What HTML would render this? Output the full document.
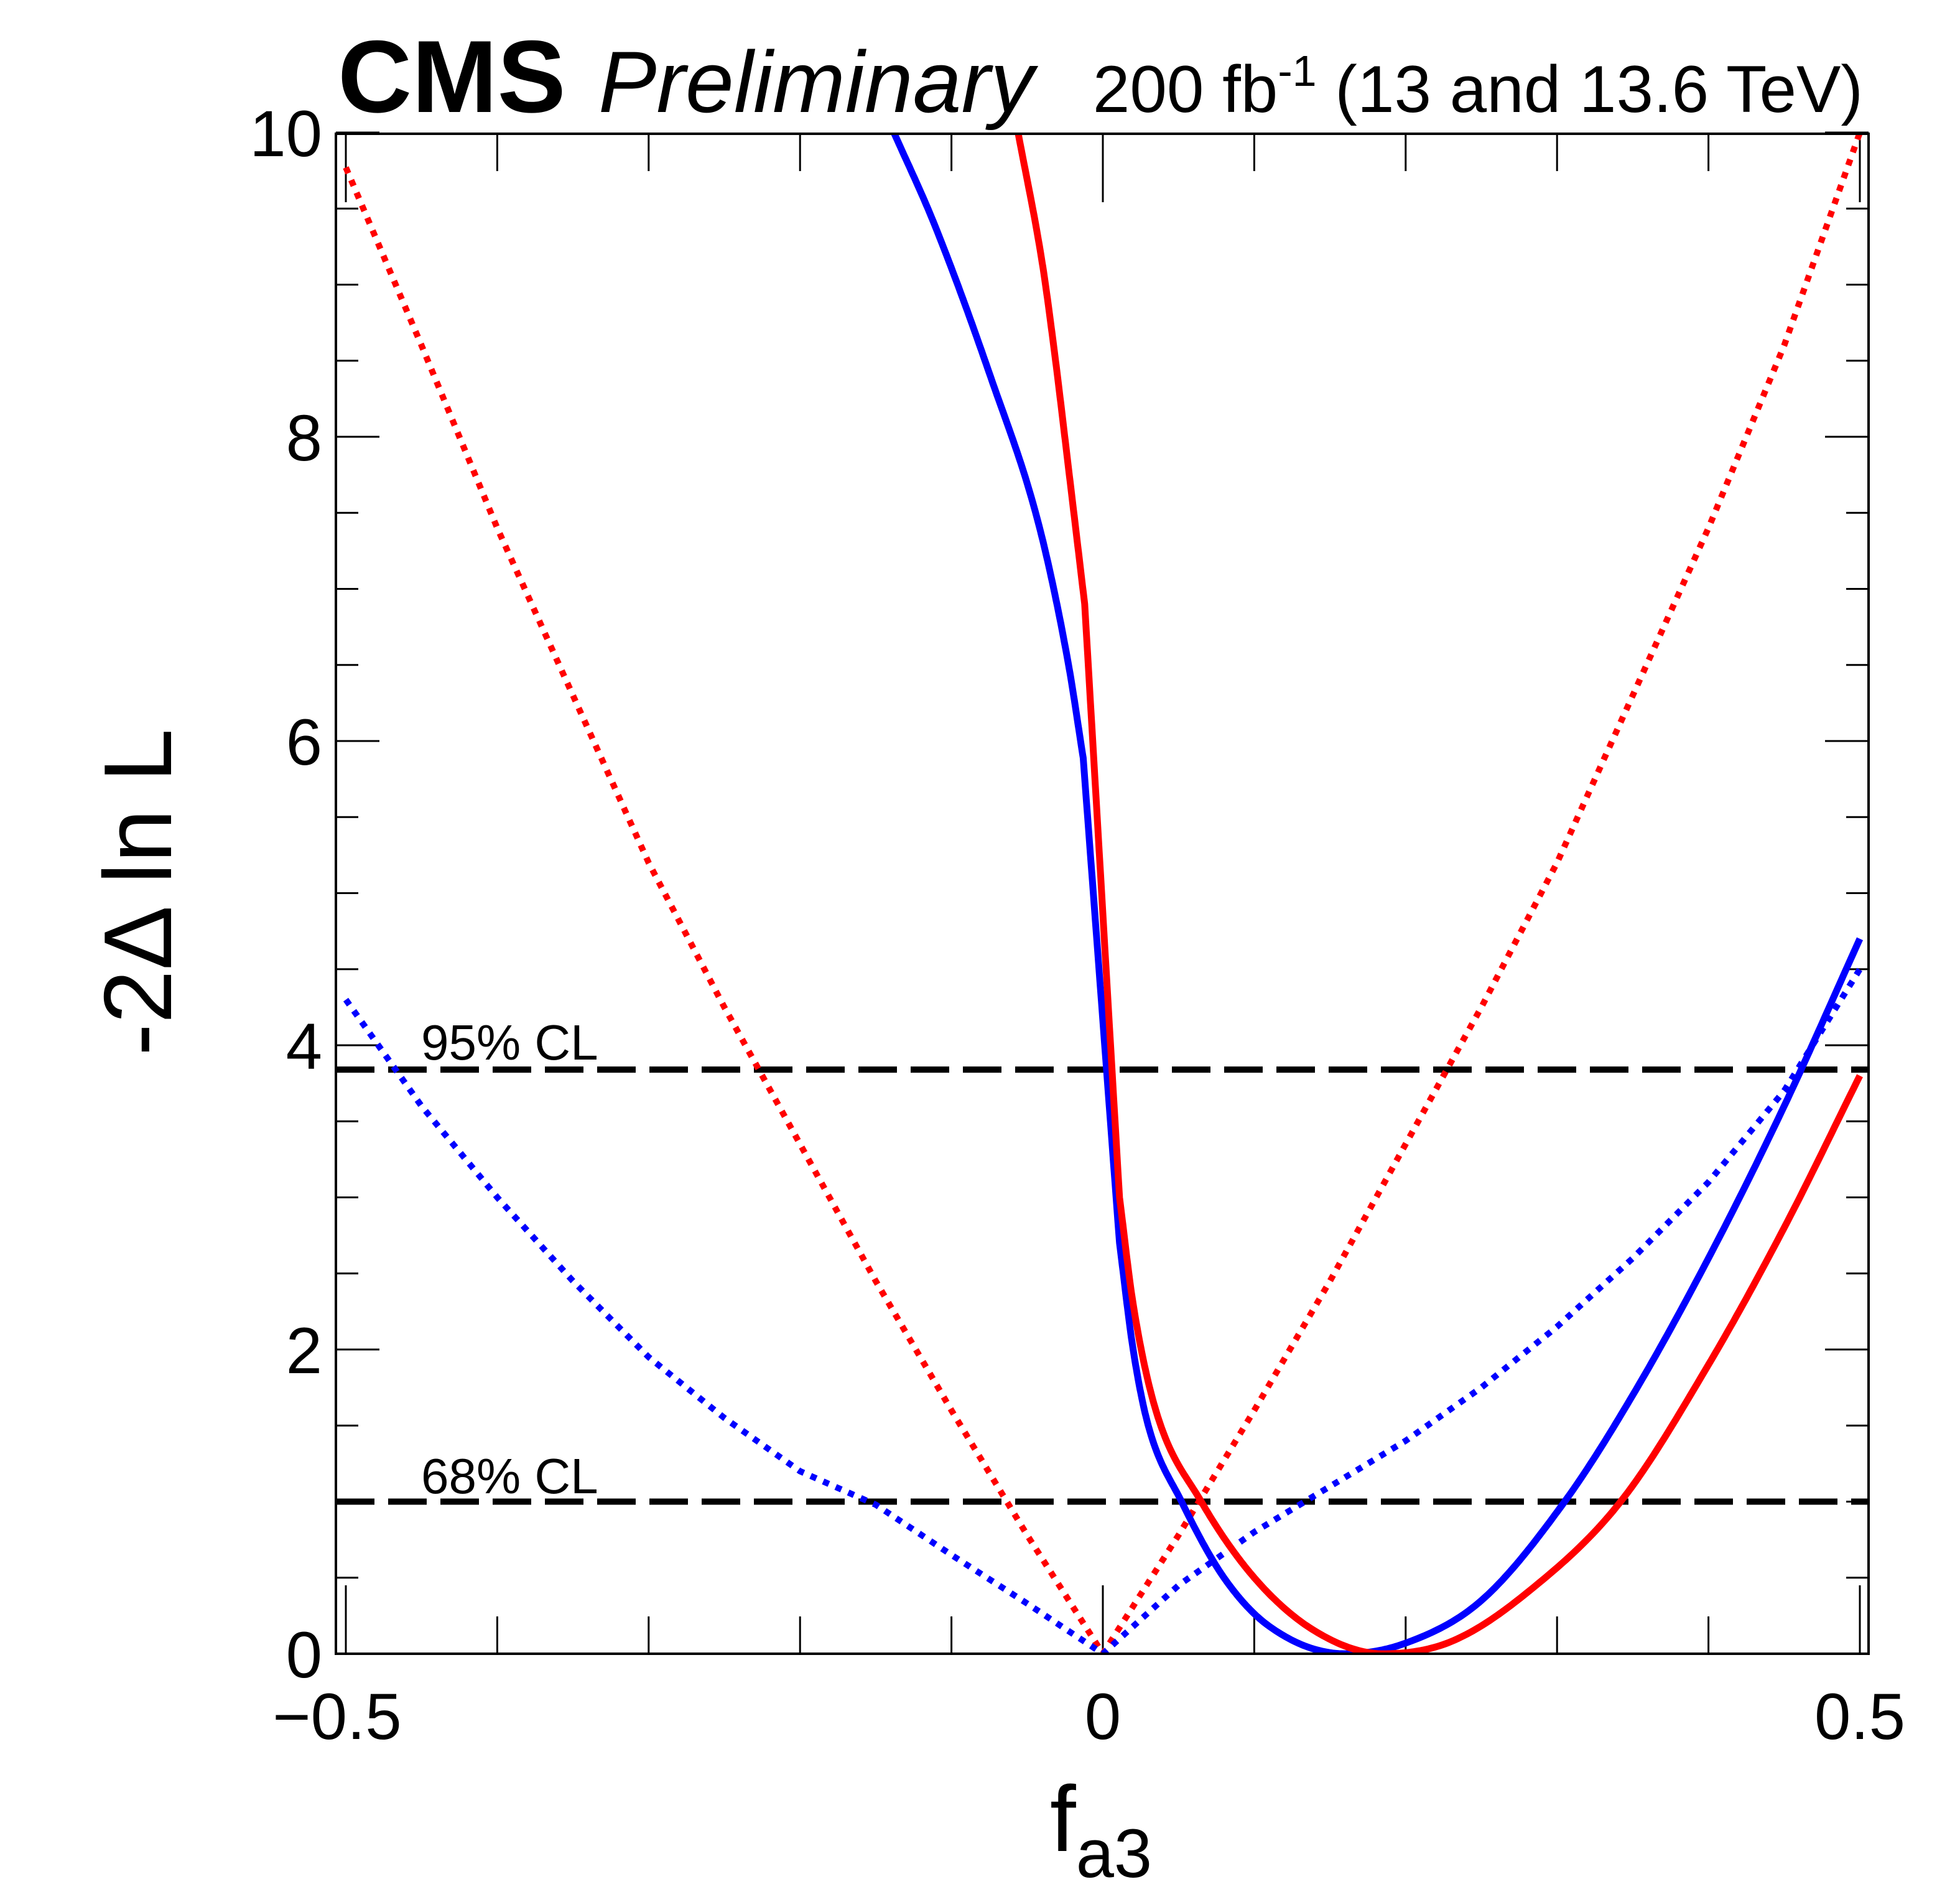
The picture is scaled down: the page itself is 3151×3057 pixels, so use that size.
<!DOCTYPE html>
<html><head><meta charset="utf-8"><style>
html,body{margin:0;padding:0;background:#fff;}
svg{display:block;font-family:"Liberation Sans",sans-serif;}
</style></head><body>
<svg id="chart" width="3151" height="3057" viewBox="0 0 3151 3057" xmlns="http://www.w3.org/2000/svg">
<defs><clipPath id="pc"><rect x="540" y="215" width="2464" height="2443"/></clipPath></defs>
<g id="ticks"></g>
<g id="curves" clip-path="url(#pc)"></g>
<rect x="540" y="215" width="2464" height="2443" fill="none" stroke="#000" stroke-width="4"/>
<text x="543" y="180" font-size="165" font-weight="bold">CMS</text>
<text x="962" y="180" font-size="140" font-style="italic">Preliminary</text>
<text x="2995" y="180" font-size="107" text-anchor="end">200 fb<tspan dy="-42" font-size="70">-1</tspan><tspan dy="42"> (13 and 13.6 TeV)</tspan></text>
<text x="677" y="1703" font-size="80">95% CL</text>
<text x="677" y="2400" font-size="80">68% CL</text>
<text transform="translate(275,1434) rotate(-90)" font-size="155" text-anchor="middle">-2Δ ln L</text>
<text x="1688" y="2975" font-size="150">f<tspan dy="42" font-size="110">a3</tspan></text>
</svg>
<script>
const xMin=-0.5, xMax=0.5, yMin=0, yMax=10;
const xTicksMajor=[-0.5,0,0.5];
const xTickLabels=["\u22120.5","0","0.5"];
const yTicksMajor=[0,2,4,6,8,10];
const yTickLabels=["0","2","4","6","8","10"];
const clLevels=[1,3.84];
const blueSolidX=[-0.138,-0.111,-0.074,-0.042,-0.023,-0.013,0.011,0.02,0.03,0.052,0.08,0.11,0.16,0.2,0.25,0.305,0.35,0.4,0.45,0.5];
const blueSolidY=[10,9.39,8.39,7.41,6.52,5.89,2.7,2.0,1.5,1.0,0.5,0.18,0,0.07,0.35,1.0,1.7,2.6,3.6,4.7];
const blueKinks=[5,6];
const redSolidX=[-0.056,-0.040,-0.032,-0.023,-0.012,0.011,0.02,0.035,0.065,0.1,0.14,0.185,0.23,0.28,0.342,0.4,0.45,0.5];
const redSolidY=[10,9.14,8.56,7.82,6.9,3.0,2.3,1.6,1.0,0.5,0.15,0,0.08,0.4,1.0,1.9,2.8,3.8];
const redKinks=[4,5];
const blueDotX=[-0.5,-0.45,-0.4,-0.35,-0.3,-0.25,-0.2,-0.15,-0.1,-0.05,0,0.05,0.1,0.15,0.2,0.25,0.3,0.35,0.4,0.45,0.5];
const blueDotY=[4.3,3.6,3.0,2.45,1.95,1.55,1.2,0.98,0.65,0.33,0,0.45,0.8,1.1,1.4,1.75,2.15,2.6,3.1,3.7,4.5];
const redDotX=[-0.5,-0.45,-0.4,-0.35,-0.3,-0.25,-0.2,-0.15,-0.1,-0.05,0,0.05,0.1,0.15,0.2,0.25,0.3,0.35,0.4,0.45,0.5];
const redDotY=[9.77,8.6,7.4,6.3,5.2,4.25,3.35,2.45,1.6,0.78,0,0.78,1.6,2.45,3.35,4.25,5.2,6.3,7.4,8.6,10];

const X0=556, X1=2990, Y0=2658, Y1=213;
function sx(v){return X0+(v-xMin)/(xMax-xMin)*(X1-X0);}
function sy(v){return Y0-(v-yMin)/(yMax-yMin)*(Y0-Y1);}
const NS="http://www.w3.org/2000/svg";
const svg=document.getElementById('chart');
const tg=document.getElementById('ticks');
const cg=document.getElementById('curves');
function mk(tag,attrs,parent){const e=document.createElementNS(NS,tag);for(const k in attrs)e.setAttribute(k,attrs[k]);parent.appendChild(e);return e;}

for(let i=0;i<=10;i++){
  const v=xMin+i*0.1; const major=xTicksMajor.some(m=>Math.abs(m-v)<1e-9);
  const len=major?110:60;
  const t1=mk('line',{x1:sx(v),x2:sx(v),y1:2658,y2:2658-len,stroke:'#000','stroke-width':3},tg);
  
  
  const t2=mk('line',{x1:sx(v),x2:sx(v),y1:215,y2:215+len,stroke:'#000','stroke-width':3},tg);
  
  
}
xTicksMajor.forEach((v,i)=>{
  const t=mk('text',{x:sx(v)+(i===0?-14:0),y:2795,'font-size':105,'text-anchor':'middle'},svg);
  t.textContent=xTickLabels[i];
  
  
});
for(let i=0;i<=20;i++){
  const v=i*0.5; const major=(i%4===0);
  const len=major?70:36;
  const t1=mk('line',{x1:540,x2:540+len,y1:sy(v),y2:sy(v),stroke:'#000','stroke-width':3},tg);
  
  
  const t2=mk('line',{x1:3004,x2:3004-len,y1:sy(v),y2:sy(v),stroke:'#000','stroke-width':3},tg);
  
  
}
yTicksMajor.forEach((v,i)=>{
  const t=mk('text',{x:518,y:sy(v)+38,'font-size':105,'text-anchor':'end'},svg);
  t.textContent=yTickLabels[i];
  
  
});
clLevels.forEach(l=>{
  const e=mk('line',{x1:540,x2:3004,y1:sy(l),y2:sy(l),stroke:'#000','stroke-width':10,'stroke-dasharray':'62 22'},cg);
  
  
});
function monoSeg(xs,ys,first){
  const n=xs.length;
  if(n<2) return first?'M'+sx(xs[0]).toFixed(1)+' '+sy(ys[0]).toFixed(1):'';
  const d=[], m=new Array(n);
  for(let i=0;i<n-1;i++) d.push((ys[i+1]-ys[i])/(xs[i+1]-xs[i]));
  m[0]=d[0]; m[n-1]=d[n-2];
  for(let i=1;i<n-1;i++){ m[i]=(d[i-1]*d[i]<=0)?0:(d[i-1]+d[i])/2; }
  for(let i=0;i<n-1;i++){
    if(d[i]===0){m[i]=0;m[i+1]=0;continue;}
    const a=m[i]/d[i], b=m[i+1]/d[i], s=a*a+b*b;
    if(s>9){const t=3/Math.sqrt(s); m[i]=t*a*d[i]; m[i+1]=t*b*d[i];}
  }
  let out=first?'M'+sx(xs[0]).toFixed(1)+' '+sy(ys[0]).toFixed(1):'';
  for(let i=0;i<n-1;i++){
    const h=xs[i+1]-xs[i];
    for(let k=1;k<=24;k++){
      const t=k/24, t2=t*t, t3=t2*t;
      const y=(2*t3-3*t2+1)*ys[i]+(t3-2*t2+t)*h*m[i]+(-2*t3+3*t2)*ys[i+1]+(t3-t2)*h*m[i+1];
      out+=' L'+sx(xs[i]+t*h).toFixed(1)+' '+sy(y).toFixed(1);
    }
  }
  return out;
}
function kinkPath(xs,ys,kinks){
  const cuts=[0,...kinks,xs.length-1];
  let out='';
  for(let j=0;j<cuts.length-1;j++){
    out+=monoSeg(xs.slice(cuts[j],cuts[j+1]+1),ys.slice(cuts[j],cuts[j+1]+1),j===0);
  }
  return out;
}
function linPath(xs,ys){return xs.map((x,i)=>(i?'L':'M')+sx(x).toFixed(1)+' '+sy(ys[i]).toFixed(1)).join(' ');}
const p1=mk('path',{d:linPath(redDotX,redDotY),fill:'none',stroke:'#ff0000','stroke-width':10,'stroke-dasharray':'10 12'},cg);


const p2=mk('path',{d:linPath(blueDotX,blueDotY),fill:'none',stroke:'#0000ff','stroke-width':10,'stroke-dasharray':'10 12'},cg);


const p3=mk('path',{d:kinkPath(blueSolidX,blueSolidY,blueKinks),fill:'none',stroke:'#0000ff','stroke-width':11,'stroke-linejoin':'round'},cg);


const p4=mk('path',{d:kinkPath(redSolidX,redSolidY,redKinks),fill:'none',stroke:'#ff0000','stroke-width':11,'stroke-linejoin':'round'},cg);


</script>
</body></html>
